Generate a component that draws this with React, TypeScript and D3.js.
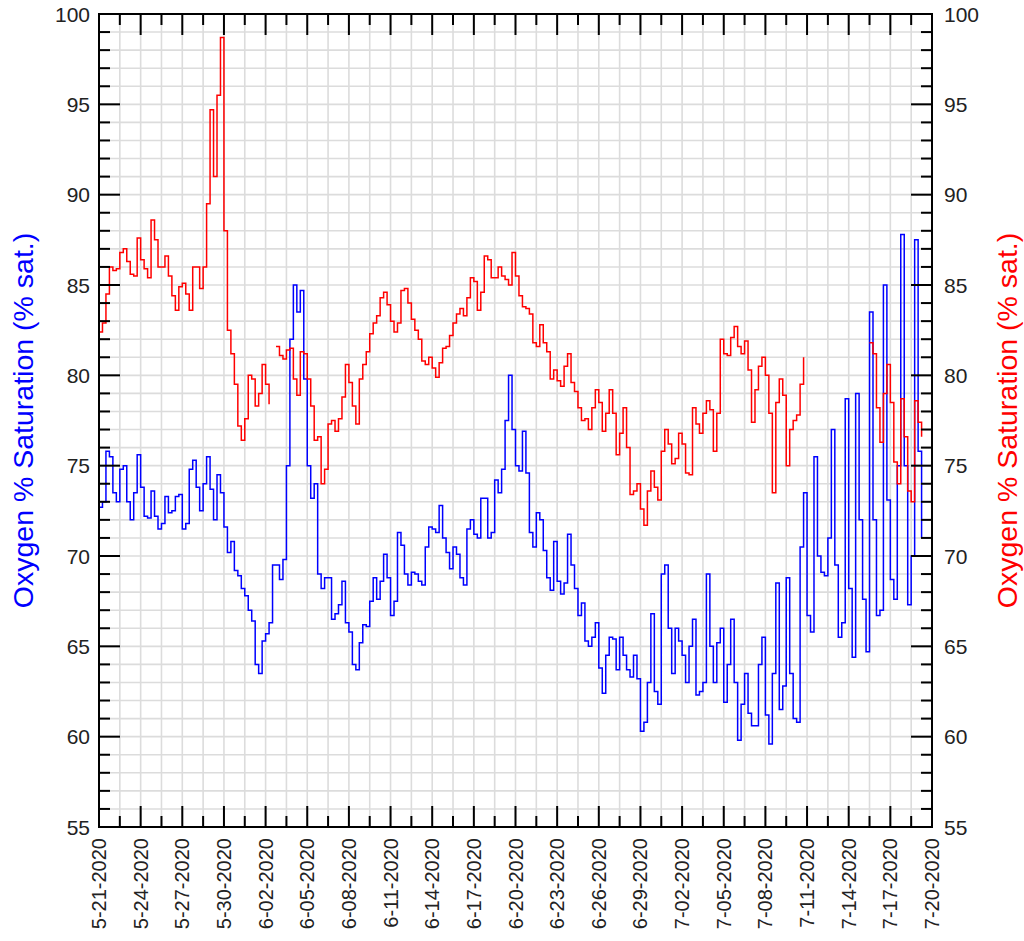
import React from "react";
import * as d3 from "d3";

// ---- data (6-hourly samples starting 2020-05-21 00:00) ----
const START_UTC = Date.UTC(2020, 4, 21);
const END_UTC = Date.UTC(2020, 6, 20);
const SAMPLE_HOURS = 6;

const redValues: (number | null)[] = [
  82.4, 82.9, 84.5, 86.0, 85.8, 85.9, 86.8, 87.0, 86.3, 85.6, 85.5, 87.6, 86.4, 85.9, 85.4, 88.6, 87.5, 86.0, 86.0, 86.6,
  85.5, 84.4, 83.6, 84.9, 85.1, 84.5, 83.6, 86.0, 86.0, 84.8, 86.0, 89.5, 94.7, 91.0, 95.5, 98.7, 88.0, 82.5, 81.2, 79.5,
  77.2,
  76.4, 77.6, 80.0, 79.8, 78.3, 79.0, 80.6, 79.5, 78.4, null, 81.6, 81.1, 80.9, 81.4, 81.5, 79.8, 78.9, 81.3, 81.2, 79.8,
  78.3, 76.4, 76.6, 74.0, 74.8, 77.3, 77.5, 76.9, 77.6, 78.8, 80.6, 79.6, 78.3, 77.3, 79.8, 80.6, 81.3, 82.3, 82.9, 83.3,
  84.3, 84.6, 83.9, 83.0, 82.4, 82.9, 84.7, 84.8, 84.0, 83.1, 82.5, 82.0, 80.8, 80.6, 81.0, 80.4, 79.9, 80.7, 81.5, 81.6,
  82.2, 82.9, 83.4, 83.7, 83.3, 84.3, 85.4, 85.2, 83.6, 84.6, 86.6, 86.4, 85.4, 85.4, 86.0, 85.5, 85.3, 85.0, 86.8, 85.5,
  84.4, 83.8, 83.7, 83.4, 81.8, 81.6, 82.8, 81.8, 81.3, 79.8, 80.3, 79.7, 79.4, 80.5, 81.2, 79.6, 79.1, 78.2, 77.5, 77.6,
  77.0, 78.2, 79.2, 78.5, 76.9, 77.9, 79.2, 77.9, 75.6, 76.8, 78.2, 76.0, 73.4, 73.6, 74.0, 72.6, 71.7, 73.6, 74.7, 73.8,
  73.1, 75.8, 77.0, 76.2, 75.1, 75.4, 76.8, 76.2, 74.6, 74.5, 78.2, 77.3, 76.8, 77.9, 78.6, 78.1, 75.8, 77.9, 82.0, 81.2,
  81.1, 82.1, 82.7, 81.6, 81.2, 81.9, 80.3, 77.4, 79.2, 80.5, 81.0, 80.0, 77.9, 73.5, 78.5, 79.8, 78.9, 75.0, 77.0, 77.5,
  77.8, 79.5, 81.0,
  null, null, null, null, null, null, null, null, null, null, null, null, null, null, null, null, null, null,
  81.8, 81.2, 78.2, 76.3, 79.0, 80.6, 78.5, 75.2, 74.0, 78.7, 76.6, 73.6, 73.0, 78.6, 77.4, 76.6,
];

const blueValues: (number | null)[] = [
  72.7, 73.0, 75.8, 75.5, 73.5, 73.0, 74.8, 75.0, 73.0, 72.0, 73.5, 75.6, 73.8, 72.2, 72.1, 73.6, 72.2, 71.5, 71.8, 73.3,
  72.4, 72.5, 73.3, 73.4, 71.5, 71.8, 74.8, 75.3, 73.8, 72.5, 74.0, 75.5, 73.7, 72.0, 74.5, 73.5, 71.6, 70.2, 70.8, 69.2,
  68.9,
  68.2, 67.8, 67.0, 66.4, 64.0, 63.5, 65.3, 65.7, 66.3, 69.5, 69.5, 68.7, 69.8, 75.0, 82.0, 85.0, 83.5, 84.7, 79.8, 75.0,
  73.2, 74.0, 69.0, 68.2, 68.8, 68.8, 66.5, 66.8, 67.3, 68.6, 66.3, 65.8, 64.0, 63.7, 65.2, 66.2, 66.1, 67.5, 68.8, 67.6,
  68.6, 70.1, 68.8, 66.7, 67.5, 71.3, 70.6, 69.0, 68.4, 69.1, 69.0, 68.6, 68.4, 70.5, 71.6, 71.5, 71.3, 72.8, 71.0, 70.2,
  69.3, 70.5, 70.1, 68.8, 68.4, 71.5, 72.0, 71.2, 71.0, 73.2, 73.2, 71.0, 71.3, 74.2, 73.5, 74.8, 77.5, 80.0, 77.0, 75.0,
  74.7, 76.9, 74.6, 71.3, 70.5, 72.4, 72.0, 70.3, 68.8, 68.1, 70.8, 68.6, 67.9, 68.5, 71.2, 69.5, 68.2, 66.7, 67.4, 65.3,
  65.0, 65.5, 66.3, 63.8, 62.4, 64.5, 65.5, 65.4, 63.7, 65.5, 64.5, 63.7, 63.3, 64.5, 63.2, 60.3, 60.8, 63.0, 66.8, 62.5,
  61.8, 69.0, 69.5, 66.0, 63.5, 66.0, 65.3, 64.5, 63.0, 65.0, 66.5, 62.3, 62.5, 63.0, 69.0, 65.0, 63.0, 65.2, 66.0, 61.9,
  64.0, 66.5, 63.0, 59.8, 61.8, 63.5, 61.3, 60.6, 60.6, 64.0, 65.5, 61.2, 59.6, 63.5, 68.5, 61.5, 62.8, 68.8, 63.5, 61.0,
  60.8, 70.5, 73.5, 66.7, 65.8, 75.5, 70.0, 69.1, 68.9, 71.0, 77.0, 69.5, 65.5, 66.3, 78.7, 68.2, 64.4, 79.0, 72.0, 67.6,
  64.7, 83.5, 72.0, 66.7, 67.0, 85.0, 73.1, 68.7, 67.6, 75.0, 87.8, 75.0, 67.3, 70.0, 87.5, 75.8, 71.0,
];

const xTickLabels = [
  "5-21-2020", "5-24-2020", "5-27-2020", "5-30-2020", "6-02-2020", "6-05-2020", "6-08-2020",
  "6-11-2020", "6-14-2020", "6-17-2020", "6-20-2020", "6-23-2020", "6-26-2020", "6-29-2020",
  "7-02-2020", "7-05-2020", "7-08-2020", "7-11-2020", "7-14-2020", "7-17-2020", "7-20-2020",
];
const yTickValues = [55, 60, 65, 70, 75, 80, 85, 90, 95, 100];
const yTitle = "Oxygen % Saturation (% sat.)";

// ---- layout ----
const W = 1024;
const H = 941;
const L = 99;
const R = 932;
const T = 14;
const B = 827;
const FONT = "'Liberation Sans', Arial, Helvetica, sans-serif";

const HOUR = 3600 * 1000;

export default function App() {
  const x = d3.scaleUtc().domain([new Date(START_UTC), new Date(END_UTC)]).range([L, R]);
  const y = d3.scaleLinear().domain([55, 100]).range([B, T]);

  const toPoints = (vals: (number | null)[]) =>
    vals.map((v, i) => ({ t: new Date(START_UTC + i * SAMPLE_HOURS * HOUR), v }));

  const line = d3
    .line<{ t: Date; v: number | null }>()
    .defined((d) => d.v !== null)
    .x((d) => x(d.t))
    .y((d) => y(d.v as number))
    .curve(d3.curveStepAfter);

  // vertical grid / x ticks every 1.5 days, labels every 3 days
  const xTicks = d3.range(0, 41).map((k) => ({
    t: new Date(START_UTC + k * 36 * HOUR),
    major: k % 2 === 0,
    label: k % 2 === 0 ? xTickLabels[k / 2] : null,
  }));
  const yMinor = d3.range(55, 101, 1);

  const gridColor = "#dcdcdc";

  return (
    <svg
      width={W}
      height={H}
      style={{ position: "absolute", left: 0, top: 0, background: "#fff" }}
      fontFamily={FONT}
    >
      <rect x={0} y={0} width={W} height={H} fill="#fff" />
      {/* grid */}
      <g stroke={gridColor} strokeWidth={1.6}>
        {yMinor.map((v) => (
          <line key={"gy" + v} x1={L} x2={R} y1={y(v)} y2={y(v)} />
        ))}
        {xTicks.map((tk, i) => (
          <line key={"gx" + i} x1={x(tk.t)} x2={x(tk.t)} y1={T} y2={B} />
        ))}
      </g>

      {/* data */}
      <path d={line(toPoints(blueValues)) || ""} fill="none" stroke="#0000ff" strokeWidth={1.5} />
      <path d={line(toPoints(redValues)) || ""} fill="none" stroke="#ff0000" strokeWidth={1.5} />

      {/* ticks */}
      <g stroke="#000" strokeWidth={2}>
        {yMinor.map((v) => {
          const len = v % 5 === 0 ? 21 : 11;
          return (
            <g key={"ty" + v}>
              <line x1={L} x2={L + len} y1={y(v)} y2={y(v)} />
              <line x1={R} x2={R - len} y1={y(v)} y2={y(v)} />
            </g>
          );
        })}
        {xTicks.map((tk, i) => {
          const len = tk.major ? 21 : 11;
          const xx = x(tk.t);
          return (
            <g key={"tx" + i}>
              <line x1={xx} x2={xx} y1={B} y2={B - len} />
              <line x1={xx} x2={xx} y1={T} y2={T + len} />
            </g>
          );
        })}
      </g>

      {/* frame */}
      <rect x={L} y={T} width={R - L} height={B - T} fill="none" stroke="#000" strokeWidth={2} />

      {/* y labels */}
      <g fontSize={21} fill="#222">
        {yTickValues.map((v) => (
          <g key={"ly" + v}>
            <text x={L - 9} y={y(v)} textAnchor="end" dominantBaseline="central">
              {v}
            </text>
            <text x={R + 12} y={y(v)} textAnchor="start" dominantBaseline="central">
              {v}
            </text>
          </g>
        ))}
      </g>

      {/* x labels */}
      <g fontSize={20} fill="#222">
        {xTicks
          .filter((tk) => tk.label)
          .map((tk, i) => {
            const xx = x(tk.t);
            const yy = B + 11;
            return (
              <text
                key={"lx" + i}
                transform={`translate(${xx},${yy}) rotate(-90)`}
                textAnchor="end"
                dominantBaseline="central"
              >
                {tk.label}
              </text>
            );
          })}
      </g>

      {/* axis titles */}
      <text
        transform={`translate(23,${(T + B) / 2}) rotate(-90)`}
        textAnchor="middle"
        dominantBaseline="central"
        fontSize={28.5}
        fill="#0000ff"
      >
        {yTitle}
      </text>
      <text
        transform={`translate(1007,${(T + B) / 2}) rotate(-90)`}
        textAnchor="middle"
        dominantBaseline="central"
        fontSize={28.5}
        fill="#ff0000"
      >
        {yTitle}
      </text>
    </svg>
  );
}
